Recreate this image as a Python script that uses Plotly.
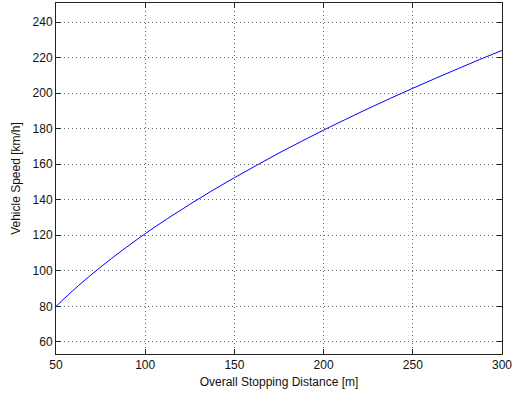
import plotly.graph_objects as go

distance_m = [50, 62.5, 75, 87.5, 100, 112.5, 125, 137.5, 150, 162.5, 175, 187.5,
              200, 212.5, 225, 237.5, 250, 262.5, 275, 287.5, 300]
speed_kmh = [80.0, 91.6, 102.1, 111.8, 120.9, 129.4, 137.4, 145.1, 152.4, 159.4, 166.3,
             172.8, 179.2, 185.3, 191.3, 197.1, 202.7, 208.2, 213.6, 218.9, 224.0]

x_ticks = [50, 100, 150, 200, 250, 300]
y_ticks = [60, 80, 100, 120, 140, 160, 180, 200, 220, 240]

fig = go.Figure()
fig.add_trace(go.Scatter(x=distance_m, y=speed_kmh, mode="lines",
                         line=dict(color="#0000ff", width=1, shape="spline"),
                         showlegend=False))

axis_common = dict(
    showgrid=True, gridcolor="#666666", griddash="1px,3px", gridwidth=1,
    showline=True, linecolor="#222222", linewidth=1, mirror="ticks",
    ticks="inside", ticklen=5, tickcolor="#222222",
    tickfont=dict(family="Liberation Sans, Arial", size=12, color="#111111"),
    zeroline=False, automargin=False, ticklabeloverflow="allow",
)

fig.update_xaxes(range=[50, 300], tickvals=x_ticks,
                 title=dict(text="Overall Stopping Distance [m]", standoff=6,
                            font=dict(family="Liberation Sans, Arial", size=12, color="#111111")),
                 **axis_common)
fig.update_yaxes(range=[53.2, 250.7], tickvals=y_ticks,
                 title=dict(text="Vehicle Speed [km/h]", standoff=9,
                            font=dict(family="Liberation Sans, Arial", size=12, color="#111111")),
                 **axis_common)

fig.update_layout(width=512, height=397,
                  margin=dict(l=56, r=10, t=3, b=43),
                  paper_bgcolor="white", plot_bgcolor="white")

fig.write_html("out.html", config={"displayModeBar": False},
               post_script="document.body.style.margin='0px';")
